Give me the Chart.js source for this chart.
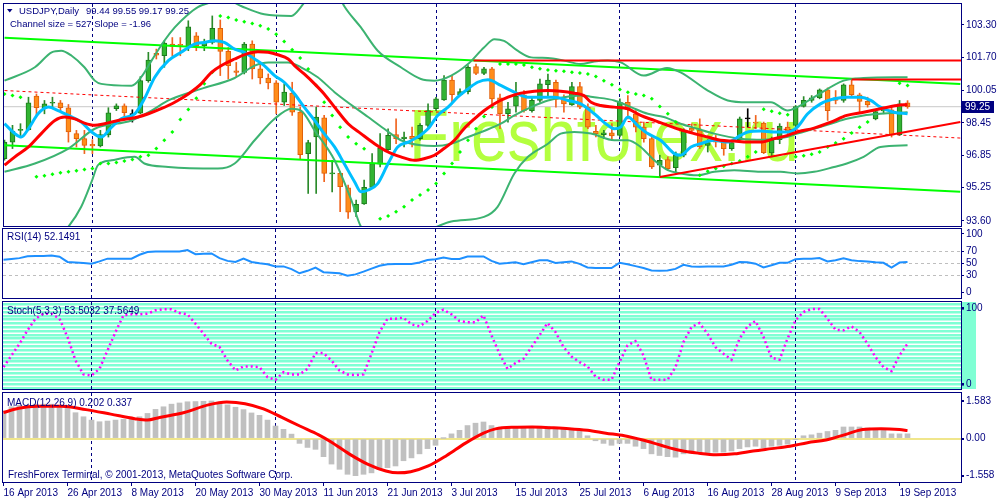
<!DOCTYPE html>
<html>
<head>
<meta charset="utf-8">
<title>USDJPY Daily</title>
<script src="https://cdn.jsdelivr.net/npm/chart.js@4.4.1/dist/chart.umd.min.js"></script>
<style>
  html, body { margin: 0; padding: 0; background: #ffffff; }
  #wrap { position: relative; width: 1000px; height: 500px; }
  #wrap canvas { position: absolute; left: 0; top: 0; }
</style>
</head>
<body>
<div id="wrap">
  <canvas id="priceChart" width="1000" height="500"></canvas>
  <canvas id="rsiChart" width="1000" height="500"></canvas>
  <canvas id="stochChart" width="1000" height="500"></canvas>
  <canvas id="macdChart" width="1000" height="500"></canvas>
</div>
<script>
// ---- axis labels ----
const dateLabels = ['16 Apr 2013', '26 Apr 2013', '8 May 2013', '20 May 2013', '30 May 2013',
  '11 Jun 2013', '21 Jun 2013', '3 Jul 2013', '15 Jul 2013', '25 Jul 2013', '6 Aug 2013',
  '16 Aug 2013', '28 Aug 2013', '9 Sep 2013', '19 Sep 2013'];
const dateBars = [0, 8, 16, 24, 32, 40, 48, 56, 64, 72, 80, 88, 96, 104, 112];
const monthBars = [11, 34, 54, 77, 99];          // period separators (1st bar of each month)
const priceTicks = [103.30, 101.70, 100.05, 98.45, 96.85, 95.25, 93.60];
const rsiTicks = [100, 70, 50, 30, 0];
const rsiLevels = [70, 50, 30];
const stochTicks = [-5, 0, 5, 10, 15, 20, 25, 30, 35, 40, 45, 50, 55, 60, 65, 70, 75, 80, 85, 90, 95, 100, 105];
const macdTicks = [1.583, 0, -1.558];
const macdTickLabels = ['1.583', '0.00', '-1.558'];

// ---- daily candles (bar 0 = 16 Apr 2013) ----
const opens = [96.68, 97.50, 98.08, 98.11, 99.77, 99.20, 99.42, 99.44, 99.20, 97.92,
  97.67, 97.39, 97.31, 97.85, 99.15, 99.29, 98.86, 98.93, 100.54, 101.89,
  101.77, 102.35, 102.32, 102.22, 102.76, 102.26, 102.43, 103.13, 101.99, 101.03,
  100.95, 102.35, 101.12, 100.67, 100.43, 99.47, 99.93, 98.98, 96.93, 97.75,
  98.70, 95.93, 95.95, 95.24, 94.06, 94.44, 95.26, 96.41, 97.13, 97.87,
  97.67, 97.78, 97.67, 98.33, 99.15, 99.59, 100.57, 99.84, 100.00, 101.23,
  100.90, 101.12, 99.69, 98.90, 99.28, 99.84, 99.06, 99.56, 100.34, 100.46,
  99.64, 99.34, 100.25, 99.23, 98.03, 97.87, 97.96, 97.83, 99.47, 98.90,
  98.24, 97.67, 96.36, 96.63, 96.24, 96.85, 98.19, 98.08, 97.34, 97.62,
  97.50, 97.18, 97.62, 98.65, 98.49, 98.44, 96.96, 97.62, 98.24, 98.33,
  99.26, 99.56, 99.69, 100.08, 99.69, 99.56, 100.33, 99.84, 99.51, 98.65,
  99.04, 99.09, 97.87, 99.44];
const highs = [97.60, 98.33, 98.41, 99.72, 99.88, 99.56, 99.72, 99.56, 99.36, 98.08,
  98.08, 97.62, 98.08, 99.20, 99.39, 99.39, 99.10, 100.74, 101.94, 102.10,
  102.51, 102.67, 102.67, 103.50, 102.92, 102.59, 103.74, 103.54, 102.18, 101.44,
  102.43, 102.51, 101.36, 100.87, 100.54, 100.38, 100.46, 99.23, 97.59, 99.23,
  98.82, 96.60, 96.03, 95.37, 94.63, 95.62, 96.93, 97.92, 98.16, 98.65,
  98.00, 98.24, 98.41, 99.39, 99.72, 100.79, 100.79, 100.13, 101.28, 101.36,
  101.20, 101.20, 99.88, 99.47, 100.46, 100.05, 99.72, 100.62, 100.87, 100.57,
  99.84, 100.46, 100.46, 99.39, 98.33, 98.08, 98.41, 99.64, 99.80, 99.06,
  98.49, 97.75, 96.85, 96.77, 97.01, 98.16, 98.41, 98.65, 97.62, 97.83,
  97.59, 97.59, 98.74, 99.15, 98.82, 98.49, 97.75, 98.41, 98.49, 99.31,
  99.75, 99.80, 100.13, 100.18, 100.05, 100.38, 100.59, 99.92, 99.72, 99.06,
  99.23, 99.23, 99.56, 99.55];
const lows = [96.60, 97.18, 97.75, 98.08, 98.82, 98.90, 99.15, 99.06, 97.50, 97.26,
  96.93, 96.93, 97.26, 97.75, 99.06, 98.74, 98.49, 98.90, 100.46, 101.61,
  101.20, 101.77, 101.77, 102.02, 102.02, 102.02, 102.35, 100.79, 100.62, 100.71,
  100.87, 100.62, 100.38, 100.13, 98.90, 99.31, 98.82, 96.68, 94.96, 94.96,
  95.54, 95.04, 94.06, 93.73, 93.81, 94.42, 95.21, 96.27, 97.09, 97.42,
  97.26, 97.26, 97.59, 98.24, 99.06, 99.56, 99.39, 99.80, 99.88, 100.84,
  100.84, 99.23, 98.16, 98.49, 98.98, 98.98, 98.98, 99.47, 99.72, 99.23,
  98.98, 99.31, 99.15, 98.16, 97.75, 97.67, 97.59, 97.75, 98.65, 98.00,
  97.50, 96.19, 95.78, 96.11, 95.95, 96.77, 97.92, 97.18, 97.01, 97.26,
  96.85, 97.09, 97.59, 98.24, 98.16, 96.93, 96.77, 97.42, 97.92, 98.24,
  99.23, 99.47, 99.64, 98.57, 99.39, 99.47, 99.72, 98.98, 99.23, 98.60,
  98.90, 97.75, 97.83, 99.17];
const closes = [97.50, 98.05, 98.12, 99.44, 99.20, 99.39, 99.45, 99.20, 98.00, 97.67,
  97.34, 97.31, 97.87, 98.95, 99.29, 98.95, 98.86, 100.54, 101.56, 101.80,
  102.40, 102.23, 102.28, 103.20, 102.26, 102.46, 103.13, 101.99, 101.28, 100.95,
  102.35, 101.12, 100.67, 100.43, 99.47, 99.97, 98.98, 96.88, 97.47, 98.74,
  95.95, 95.97, 95.29, 94.03, 94.42, 95.26, 96.44, 97.21, 97.83, 97.67,
  97.75, 97.67, 98.33, 99.06, 99.64, 100.57, 99.85, 100.00, 101.20, 100.90,
  101.12, 99.64, 98.90, 99.15, 99.77, 99.06, 99.56, 100.38, 100.57, 99.61,
  99.39, 100.25, 99.23, 98.24, 97.92, 97.96, 97.80, 99.47, 99.11, 98.24,
  97.67, 96.27, 96.60, 96.19, 96.85, 98.08, 98.08, 97.26, 97.47, 97.50,
  97.18, 97.47, 98.65, 98.65, 98.44, 96.98, 97.59, 98.29, 98.05, 99.26,
  99.56, 99.69, 100.08, 99.06, 99.56, 100.33, 99.84, 99.51, 99.34, 99.01,
  99.09, 97.87, 99.39, 99.25];

// ---- overlays: [bar, price] ----
const bbUpper = [[0, 100.54], [3.8, 101.20], [5.9, 101.94], [7.1, 102.02], [8.4, 101.77], [10, 101.20],
  [11.3, 100.54], [12.1, 100.38], [15.9, 100.29], [17.1, 100.71], [18.4, 101.53], [20, 102.51],
  [21.3, 103.17], [22.75, 103.74], [24.2, 104.18], [25.7, 104.40], [27.5, 104.6], [29.6, 104.23],
  [32.5, 103.82], [35.9, 103.74], [36.3, 103.82], [37.5, 104.40], [39, 105.3], [41, 105.4],
  [42.5, 104.23], [44.6, 103.17], [46.7, 102.02], [49.6, 101.20], [52.1, 100.62], [53.8, 100.54],
  [55.9, 100.79], [58, 101.36], [60, 102.18], [61.3, 102.59], [62.5, 102.51], [64.2, 102.02],
  [65.9, 101.69], [68, 101.66], [70, 101.53], [72.1, 101.36], [73.8, 101.49], [75.5, 101.53],
  [77.1, 101.44], [80, 100.79], [82.9, 101.17], [84.6, 100.95], [88, 100.05], [90.5, 99.56],
  [93, 99.47], [95.9, 99.47], [98, 99.06], [99.2, 99.23], [101.3, 99.72], [105, 100.54],
  [107.5, 100.67], [113, 100.71]];
const bbMiddle = [[0, 96.03], [3.8, 96.44], [8, 97.18], [11.3, 98.16], [15.9, 98.57], [18.4, 99.06],
  [20.5, 99.56], [24.6, 100.13], [28.8, 100.67], [31.3, 101.28], [33, 101.44], [35.5, 101.44],
  [37.1, 101.20], [39.2, 100.71], [41.3, 99.97], [45.5, 98.74], [47.5, 98.16], [49.6, 97.59],
  [52.1, 97.34], [53.8, 97.31], [55.9, 97.42], [58, 97.75], [60, 98.05], [62.1, 98.41],
  [63.8, 98.82], [65.9, 99.23], [68, 99.56], [70, 99.72], [72.1, 99.80], [73.8, 99.72],
  [76.3, 99.56], [78.4, 99.23], [80.5, 98.90], [82.5, 98.74], [84.6, 98.41], [86.7, 98.16],
  [88.8, 97.92], [92.1, 97.67], [95, 97.62], [97.9, 97.75], [99.2, 97.92], [101.3, 98.16],
  [103.4, 98.41], [105.4, 98.65], [107.5, 98.82], [109.6, 98.90], [113, 98.98]];
const bbLower = [[0, 91.5], [4, 91.8], [8, 93.32], [9.6, 94.30], [10.9, 95.54], [11.7, 96.36],
  [13.4, 96.60], [16.3, 96.77], [17.5, 96.44], [20.5, 96.27], [26.7, 96.19], [28.8, 96.44],
  [31.3, 97.59], [33.8, 98.65], [35.9, 99.15], [37.1, 99.06], [38.8, 98.08], [41.3, 96.60],
  [43.4, 94.63], [44.6, 93.32], [47, 92.6], [51, 92.8], [55.9, 93.57], [60, 93.8],
  [61.7, 94.30], [63.8, 95.95], [65.5, 96.77], [68, 97.42], [69.6, 97.92], [71.3, 98.00],
  [73.4, 97.92], [76.3, 97.59], [78, 97.59], [79.6, 97.26], [81.3, 96.60], [83, 96.11],
  [84.6, 95.95], [86.7, 95.86], [88.8, 96.03], [91.3, 96.11], [94.6, 96.03], [97.1, 96.03],
  [99.2, 95.95], [101.3, 96.03], [103.8, 96.27], [105.4, 96.44], [107.5, 96.77], [109.6, 97.26],
  [113, 97.34]];
const fastMA = [[0, 98.41], [1.3, 97.92], [2.1, 97.75], [3, 98.16], [4.2, 98.90], [5.5, 99.23],
  [6.7, 99.06], [8, 98.82], [9.6, 98.49], [10.9, 98.00], [12.1, 97.75], [13.4, 98.24],
  [14.6, 98.65], [16.3, 98.90], [17.5, 99.64], [18.8, 100.71], [20.5, 101.53], [22.1, 101.94],
  [23.8, 102.35], [25, 102.43], [26.3, 102.51], [27.5, 102.43], [28.8, 102.10], [30, 101.94],
  [31.3, 101.61], [32.5, 101.28], [33.8, 100.79], [35, 100.46], [36.3, 99.88], [37.5, 99.23],
  [38.8, 98.57], [40, 97.92], [41.3, 97.26], [42.5, 96.44], [43.8, 95.54], [44.6, 95.04],
  [45.5, 95.13], [46.7, 95.45], [48, 96.44], [49.2, 97.26], [50.5, 97.50], [51.7, 97.75],
  [53, 98.16], [54.2, 98.82], [55.5, 99.23], [56.7, 99.72], [58, 100.13], [59.2, 100.46],
  [60.5, 100.58], [62.1, 100.30], [63.8, 99.97], [65.5, 99.72], [67.1, 99.72], [68.8, 99.72],
  [70.5, 99.56], [72.1, 99.39], [73.8, 98.90], [75.5, 98.33], [76.3, 98.16], [77.1, 98.24],
  [78, 98.74], [79.2, 98.33], [80.5, 97.92], [82.1, 97.59], [83.8, 96.93], [84.6, 96.85],
  [85.9, 97.26], [87.1, 97.42], [88.8, 97.59], [90.5, 97.50], [92.1, 97.83], [93, 98.00],
  [94.6, 98.05], [96.3, 98.00], [98, 98.00], [99.2, 98.24], [100.5, 98.90], [102.1, 99.39],
  [103.8, 99.64], [105.4, 99.72], [107.1, 99.72], [108.4, 99.56], [109.6, 99.23], [111.3, 98.98],
  [113, 98.90]];
const slowMA = [[0, 96.36], [1.3, 96.77], [3, 97.26], [4.6, 97.92], [6.3, 98.57], [7.5, 98.74],
  [8.8, 98.65], [10, 98.44], [11.3, 98.33], [12.5, 98.41], [14.2, 98.57], [15.5, 98.65],
  [16.7, 98.74], [18, 98.90], [19.6, 99.15], [21.3, 99.47], [23, 99.88], [24.6, 100.38],
  [25.9, 100.95], [27.1, 101.28], [28.8, 101.61], [30.5, 101.89], [31.7, 101.97], [33, 101.94],
  [34.2, 101.82], [35.5, 101.61], [36.3, 101.28], [37.5, 100.87], [38.8, 100.38], [40, 99.88],
  [41.3, 99.23], [43, 98.41], [44.6, 97.92], [46.3, 97.42], [48, 97.01], [49.6, 96.77],
  [51.3, 96.60], [52.5, 96.68], [53.8, 96.85], [55, 97.18], [56.3, 97.59], [57.5, 98.16],
  [58.8, 98.65], [60, 99.05], [61.3, 99.40], [63, 99.72], [64.6, 99.92], [66.3, 100.02],
  [68, 100.05], [69.6, 100.02], [71.3, 99.92], [72.5, 99.80], [73.4, 99.47], [74.6, 99.31],
  [76.3, 99.23], [78, 99.15], [79.6, 98.82], [81.3, 98.57], [83, 98.33], [84.6, 98.11],
  [86.3, 97.92], [88, 97.75], [89.6, 97.59], [91.3, 97.55], [93, 97.50], [94.6, 97.50],
  [96.3, 97.67], [98, 97.83], [99.2, 98.00], [101.3, 98.19], [103.4, 98.49], [105.4, 98.82],
  [107.5, 98.98], [109.6, 99.15], [111.7, 99.31], [113, 99.36]];
const sarDots = [[0, 99.88], [1, 99.80], [2, 99.72], [4, 95.78], [5, 95.83], [6, 95.91], [7, 95.98],
  [8, 96.03], [9, 96.08], [10, 96.14], [11, 96.19], [12, 96.44], [13, 96.44], [14, 96.49], [15, 96.57],
  [16, 96.64], [17, 96.77], [18, 96.85], [19, 97.18], [20, 97.59], [21, 98.00], [22, 98.62],
  [23, 99.11], [24, 99.67], [25, 100.38], [26, 100.95], [27, 103.74], [28, 103.66], [29, 103.54],
  [30, 103.45], [31, 103.36], [32, 103.25], [33, 103.09], [34, 102.84], [35, 102.48], [36, 102.07],
  [37, 101.66], [38, 101.12], [39, 100.30], [40, 99.47], [41, 98.82], [42, 98.24], [43, 97.75],
  [44, 97.42], [45, 97.17], [47, 93.71], [48, 93.84], [49, 94.06], [50, 94.30], [51, 94.63],
  [52, 94.88], [53, 95.13], [54, 95.45], [55, 95.95], [56, 96.44], [57, 97.01], [58, 97.59],
  [59, 98.16], [60, 98.77], [61, 99.23], [62, 101.36], [63, 101.36], [64, 101.36], [65, 101.31],
  [66, 101.20], [67, 101.13], [68, 101.07], [69, 101.03], [70, 101.00], [71, 100.95], [72, 100.92],
  [73, 100.87], [74, 100.74], [75, 100.54], [76, 100.33], [77, 100.10], [78, 99.97], [79, 99.88],
  [80, 99.80], [81, 99.64], [82, 99.26], [83, 98.90], [84, 98.49], [87, 95.86], [88, 96.06],
  [89, 96.19], [90, 96.31], [91, 96.44], [92, 96.57], [93, 96.77], [94, 97.01], [95, 99.13],
  [96, 99.03], [97, 98.93], [98, 98.85], [99, 96.77], [100, 96.82], [101, 96.90], [102, 97.01],
  [103, 97.26], [104, 97.46], [105, 97.67], [106, 97.95], [107, 98.24], [108, 98.49],
  [112, 100.41], [113, 100.30]];

// regression channel, trend line and resistance levels
const chanBars = [0, 119.6];
const chanUpper = [102.66, 100.37];
const chanMiddle = [100.05, 97.70];
const chanLower = [97.34, 95.04];
const trendBars = [82, 119.6];
const trendPrices = [95.77, 98.49];
const resLevels = [101.53, 100.59];
const resStart = [58.7, 106];

// ---- sub-window indicators ----
const rsi = [56.1, 57.5, 58.9, 62.2, 62.7, 62.7, 63.2, 61.3, 52.4, 51.4,
  50.5, 49.5, 53.3, 58.0, 58.0, 58.0, 58.0, 64.6, 69.3, 70.2,
  70.2, 70.2, 70.2, 72.6, 65.5, 66.5, 66.9, 58.9, 54.2, 52.4,
  58.0, 52.4, 50.0, 48.6, 44.8, 44.8, 40.1, 33.1, 37.3, 42.9,
  34.9, 34.0, 33.1, 28.8, 31.2, 35.9, 41.1, 45.8, 48.6, 49.1,
  49.1, 49.1, 51.4, 55.6, 57.1, 59.9, 57.5, 57.5, 61.8, 61.8,
  61.8, 54.2, 49.5, 50.5, 51.9, 48.6, 51.9, 55.2, 55.2, 50.5,
  51.9, 53.3, 49.1, 42.9, 42.0, 42.0, 42.0, 50.9, 48.6, 45.3,
  42.0, 37.8, 37.3, 37.8, 40.6, 47.6, 44.8, 44.4, 44.8, 44.8,
  44.8, 47.6, 52.4, 51.9, 49.5, 42.9, 46.7, 50.9, 50.9, 57.1,
  58.0, 58.0, 58.9, 53.3, 55.2, 58.5, 55.2, 53.8, 53.3, 51.9,
  50.9, 42.9, 51.4, 52.1];
const stoch = [22.8, 38.2, 53.5, 71.1, 86.4, 93.0, 93.0, 86.4, 62.3, 31.6,
  13.2, 11.8, 20.6, 44.7, 68.9, 90.8, 92.1, 92.1, 93.0, 97.4,
  98.7, 98.7, 93.9, 92.1, 79.8, 66.7, 53.5, 49.1, 31.6, 18.4,
  23.7, 23.7, 22.8, 9.6, 6.1, 16.2, 13.2, 13.2, 20.6, 41.2,
  41.2, 31.6, 18.4, 13.2, 12.3, 13.2, 40.4, 68.9, 86.4, 86.4,
  87.7, 78.9, 76.3, 83.3, 93.9, 98.2, 92.1, 83.3, 81.6, 81.6,
  90.8, 64.5, 40.4, 20.6, 28.1, 33.8, 49.1, 64.5, 80.7, 68.9,
  49.1, 36.8, 29.4, 23.7, 10.5, 6.1, 6.1, 29.4, 51.3, 57.0,
  38.2, 6.1, 6.1, 6.1, 22.8, 55.7, 75.4, 80.7, 66.7, 49.1,
  40.4, 32.5, 60.1, 76.3, 83.3, 62.3, 35.1, 32.5, 60.1, 84.2,
  95.2, 99.1, 99.1, 86.4, 71.9, 71.1, 76.3, 68.9, 53.5, 36.0,
  22.8, 17.5, 38.2, 53.5];
const macdHist = [1.17, 1.34, 1.41, 1.41, 1.45, 1.45, 1.45, 1.41, 1.27, 1.09,
  0.92, 0.78, 0.71, 0.74, 0.78, 0.81, 0.81, 0.92, 1.06, 1.23,
  1.34, 1.45, 1.50, 1.55, 1.56, 1.57, 1.583, 1.52, 1.42, 1.32,
  1.22, 1.08, 0.98, 0.78, 0.53, 0.39, 0.19, -0.20, -0.37, -0.45,
  -0.76, -1.07, -1.29, -1.50, -1.558, -1.50, -1.44, -1.29, -1.22, -1.15,
  -0.93, -0.81, -0.64, -0.42, -0.28, 0.01, 0.20, 0.35, 0.55, 0.65,
  0.70, 0.55, 0.45, 0.48, 0.48, 0.45, 0.49, 0.52, 0.52, 0.45,
  0.45, 0.41, 0.35, 0.12, -0.09, -0.20, -0.28, -0.20, -0.20, -0.32,
  -0.42, -0.64, -0.71, -0.76, -0.78, -0.64, -0.61, -0.61, -0.61, -0.57,
  -0.57, -0.52, -0.42, -0.35, -0.32, -0.38, -0.32, -0.28, -0.23, -0.03,
  0.12, 0.16, 0.23, 0.30, 0.35, 0.49, 0.49, 0.49, 0.45, 0.38,
  0.35, 0.20, 0.20, 0.202];
const macdSignal = [[0, 1.10], [1.9, 1.28], [4.2, 1.36], [7.3, 1.36], [10.3, 1.22], [13.4, 1.03],
  [16.4, 0.84], [18, 0.78], [19.5, 0.89], [22.6, 1.10], [25.6, 1.42], [27.9, 1.54], [30.2, 1.47],
  [32.5, 1.25], [34.8, 0.89], [37.1, 0.52], [39.4, 0.16], [40.9, -0.13], [43.2, -0.64],
  [45.5, -1.07], [47.8, -1.36], [49.3, -1.44], [50.9, -1.39], [53.1, -1.15], [55.4, -0.71],
  [57.7, -0.20], [60, 0.23], [61.5, 0.41], [63.8, 0.48], [66.1, 0.49], [68.4, 0.46], [70.7, 0.42],
  [73, 0.35], [75.3, 0.23], [77.6, 0.12], [79.9, -0.06], [82.2, -0.28], [84.5, -0.49],
  [86.8, -0.61], [89.1, -0.68], [91.4, -0.64], [93.7, -0.52], [96, -0.42], [98.3, -0.32],
  [100.5, -0.17], [102.8, -0.06], [105.1, 0.16], [107.4, 0.38], [109.7, 0.42], [112, 0.38],
  [113, 0.337]];

// header texts
const titleText = 'USDJPY,Daily';
const channelText = 'Channel size = 527 Slope = -1.96';
const rsiText = 'RSI(14) 52.1491';
const stochText = 'Stoch(5,3,3) 53.5032 37.5649';
const macdText = 'MACD(12,26,9) 0.202 0.337';
const footerText = 'FreshForex Terminal, \u00A9 2001-2013, MetaQuotes Software Corp.';
const watermark = 'Freshforex.ru';

// ---- styling ----
const NAVY = '#000080';
const FONT = '"Liberation Sans", Arial, sans-serif';
const X_MIN = -0.0625, X_MAX = 119.6875;   // 8 px per bar
Chart.defaults.font.family = FONT;
Chart.defaults.font.size = 10;
Chart.defaults.color = NAVY;
Chart.defaults.elements.point.radius = 0;

const pts = a => a.map(p => ({ x: p[0], y: p[1] }));
const perBar = a => a.map((v, i) => ({ x: i, y: v }));
const last = closes.length - 1;
const dir = closes.map((c, i) => c > opens[i] ? 1 : c < opens[i] ? -1 : 0);
const pick = (d, up, down, flat) => d > 0 ? up : d < 0 ? down : flat;

function xAxis(show) {
  return {
    type: 'linear', min: X_MIN, max: X_MAX, offset: false, display: show,
    afterBuildTicks: s => { s.ticks = dateBars.map(v => ({ value: v })); },
    afterFit: s => {
      if (show) s.height = 18;
      s.paddingLeft = 0; s.paddingRight = 0;
    },
    grid: { offset: false, drawOnChartArea: false, tickLength: 4, tickColor: NAVY },
    border: { display: false },
    ticks: {
      autoSkip: false, maxRotation: 0, minRotation: 0, align: 'start', padding: 1, color: NAVY,
      callback: v => dateLabels[dateBars.indexOf(v)] || ''
    }
  };
}

function yAxis(min, max, vals, fmt, grid, border) {
  return {
    type: 'linear', position: 'right', min, max,
    afterBuildTicks: s => { s.ticks = vals.map(v => ({ value: v })); },
    afterFit: s => { s.width = 39; s.paddingTop = 0; s.paddingBottom = 0; },
    grid: Object.assign({ drawOnChartArea: false, tickLength: 3, tickColor: NAVY }, grid || {}),
    border: Object.assign({ display: false }, border || {}),
    ticks: { autoSkip: false, padding: 2, color: NAVY, callback: fmt }
  };
}

function baseOptions(top, bottom, scales) {
  return {
    responsive: false, animation: false, devicePixelRatio: 1, events: [],
    layout: { padding: { left: 3, right: 0, top: top, bottom: bottom } },
    plugins: { legend: { display: false }, tooltip: { enabled: false } },
    scales: scales
  };
}

// frame around each sub-window + dashed month separators
const framePlugin = {
  id: 'frame',
  beforeDatasetsDraw(chart) {
    const { ctx, chartArea: a, scales: { x } } = chart;
    ctx.save();
    ctx.strokeStyle = NAVY;
    ctx.lineWidth = 1;
    ctx.setLineDash([3, 3]);
    monthBars.forEach(b => {
      const px = Math.floor(x.getPixelForValue(b)) + 0.5;
      ctx.beginPath();
      ctx.moveTo(px, a.top);
      ctx.lineTo(px, a.bottom);
      ctx.stroke();
    });
    ctx.restore();
  },
  afterDraw(chart) {
    const { ctx, chartArea: a } = chart;
    ctx.save();
    ctx.strokeStyle = NAVY;
    ctx.lineWidth = 1;
    ctx.strokeRect(a.left - 0.5, a.top - 0.5, a.right - a.left + 1, a.bottom - a.top + 1);
    ctx.restore();
  }
};

function labelPlugin(items) {
  return {
    id: 'labels',
    afterDraw(chart) {
      const ctx = chart.ctx;
      ctx.save();
      ctx.font = '10px ' + FONT;
      ctx.fillStyle = NAVY;
      ctx.textBaseline = 'middle';
      items.forEach(t => ctx.fillText(t[0], t[1], t[2]));
      ctx.restore();
    }
  };
}

// price window extras: watermark, title, current price tag
const priceExtras = {
  id: 'priceExtras',
  beforeDatasetsDraw(chart) {
    const ctx = chart.ctx;
    ctx.save();
    ctx.font = '74px ' + FONT;
    ctx.fillStyle = 'rgba(173,255,47,0.92)';
    ctx.textBaseline = 'alphabetic';
    ctx.fillText(watermark, 409, 161, 390);
    ctx.restore();
  },
  afterDraw(chart) {
    const { ctx, scales: { y } } = chart;
    ctx.save();
    ctx.fillStyle = NAVY;
    ctx.beginPath();
    ctx.moveTo(7, 9); ctx.lineTo(12.5, 9); ctx.lineTo(9.75, 12.5); ctx.closePath();
    ctx.fill();
    ctx.font = '9.5px ' + FONT;
    ctx.textBaseline = 'middle';
    ctx.fillText(titleText, 19, 11);
    const ohlc = [opens[last], highs[last], lows[last], closes[last]].map(v => v.toFixed(2)).join(' ');
    ctx.fillText(ohlc, 86, 11);
    ctx.fillText(channelText, 10, 24);
    ctx.font = '10px ' + FONT;
    const py = Math.round(y.getPixelForValue(closes[last]));
    ctx.fillRect(962, py - 6, 32, 12);
    ctx.fillStyle = '#ffffff';
    ctx.fillText(closes[last].toFixed(2), 965, py);
    ctx.restore();
  }
};

const stochExtras = {
  id: 'stochExtras',
  beforeDraw(chart) {
    const { ctx, chartArea: a } = chart;
    ctx.save();
    ctx.fillStyle = '#7FFFD4';
    ctx.fillRect(962, a.top, 14, a.bottom - a.top);
    ctx.restore();
  }
};

// ---- price window ----
const mono = { cubicInterpolationMode: 'monotone', pointRadius: 0, fill: false };
const priceDatasets = [
  { type: 'line', data: [{ x: X_MIN, y: closes[last] }, { x: X_MAX, y: closes[last] }],
    borderColor: '#C8C8C8', borderWidth: 1, order: 20 },
  { type: 'bar', data: closes.map((c, i) => ({ x: i, y: [lows[i], highs[i]] })),
    backgroundColor: dir.map(d => pick(d, '#2A8A2A', '#F0641E', '#000000')),
    barThickness: 1, grouped: false, order: 12 },
  { type: 'bar', data: closes.map((c, i) => ({ x: i, y: [opens[i], c] })),
    backgroundColor: dir.map(d => pick(d, '#32B432', '#FF8C1A', '#000000')),
    borderColor: dir.map(d => pick(d, '#1C7A1C', '#E0600A', '#000000')),
    borderWidth: 1, borderSkipped: false, barThickness: 5, grouped: false, minBarLength: 1, order: 11 },
  { type: 'line', data: chanBars.map((b, i) => ({ x: b, y: chanUpper[i] })), borderColor: '#00FF00', borderWidth: 2, order: 9 },
  { type: 'line', data: chanBars.map((b, i) => ({ x: b, y: chanLower[i] })), borderColor: '#00FF00', borderWidth: 2, order: 9 },
  { type: 'line', data: chanBars.map((b, i) => ({ x: b, y: chanMiddle[i] })), borderColor: '#FF0000', borderWidth: 1, borderDash: [3, 3], order: 9 },
  Object.assign({ type: 'line', data: pts(bbUpper), borderColor: '#3CB371', borderWidth: 2, order: 8 }, mono),
  Object.assign({ type: 'line', data: pts(bbMiddle), borderColor: '#3CB371', borderWidth: 2, order: 8 }, mono),
  Object.assign({ type: 'line', data: pts(bbLower), borderColor: '#3CB371', borderWidth: 2, order: 8 }, mono),
  { type: 'line', data: pts(sarDots), showLine: false, pointStyle: 'rectRot', pointRadius: 2,
    pointBackgroundColor: '#00FF00', pointBorderWidth: 0, order: 7 },
  Object.assign({ type: 'line', data: pts(fastMA), borderColor: '#00BFFF', borderWidth: 3, order: 5 }, mono),
  Object.assign({ type: 'line', data: pts(slowMA), borderColor: '#FF0000', borderWidth: 3, order: 4 }, mono),
  { type: 'line', data: trendBars.map((b, i) => ({ x: b, y: trendPrices[i] })), borderColor: '#FF0000', borderWidth: 2, order: 3 }
].concat(resLevels.map((lv, i) => ({
  type: 'line', data: [{ x: resStart[i], y: lv }, { x: X_MAX, y: lv }], borderColor: '#FF0000', borderWidth: 2, order: 3
})));

new Chart(document.getElementById('priceChart'), {
  type: 'line',
  data: { datasets: priceDatasets },
  options: baseOptions(3, 274, {
    x: xAxis(false),
    y: yAxis(93.35, 104.33, priceTicks, v => v.toFixed(2))
  }),
  plugins: [framePlugin, priceExtras]
});

// ---- RSI window ----
new Chart(document.getElementById('rsiChart'), {
  type: 'line',
  data: { datasets: [{ data: perBar(rsi), borderColor: '#1E90FF', borderWidth: 2, pointRadius: 0 }] },
  options: baseOptions(229, 202, {
    x: xAxis(false),
    y: yAxis(-9.0, 108.5, rsiTicks, v => String(v), {
      drawOnChartArea: true,
      color: c => rsiLevels.includes(c.tick && c.tick.value) ? '#BEBEBE' : 'rgba(0,0,0,0)'
    }, { dash: [3, 3] })
  }),
  plugins: [framePlugin, labelPlugin([[rsiText, 7, 237]])]
});

// ---- Stochastic window ----
new Chart(document.getElementById('stochChart'), {
  type: 'line',
  data: { datasets: [{ data: perBar(stoch), borderColor: '#FF00FF', borderWidth: 2.5, borderDash: [2, 3], pointRadius: 0 }] },
  options: baseOptions(302, 111, {
    x: xAxis(false),
    y: yAxis(-5.9, 108.27, stochTicks, v => (v === 100 || v === 0) ? String(v) : '', {
      drawOnChartArea: true, color: '#7FFFD4', lineWidth: 2.6,
      tickColor: c => (c.tick && (c.tick.value === 100 || c.tick.value === 0)) ? NAVY : 'rgba(0,0,0,0)'
    })
  }),
  plugins: [stochExtras, framePlugin, labelPlugin([[stochText, 7, 311]])]
});

// ---- MACD window ----
new Chart(document.getElementById('macdChart'), {
  type: 'line',
  data: {
    datasets: [
      { type: 'bar', data: perBar(macdHist), backgroundColor: '#C0C0C0', barThickness: 5, grouped: false, order: 2 },
      { type: 'line', data: pts(macdSignal), borderColor: '#FF0000', borderWidth: 3,
        cubicInterpolationMode: 'monotone', pointRadius: 0, order: 1 }
    ]
  },
  options: baseOptions(393, 0, {
    x: xAxis(true),
    y: yAxis(-1.824, 1.919, macdTicks, v => macdTickLabels[macdTicks.indexOf(v)] || '', {
      drawOnChartArea: true, lineWidth: 2,
      color: c => (c.tick && c.tick.value === 0) ? '#F0E68C' : 'rgba(0,0,0,0)'
    })
  }),
  plugins: [framePlugin, labelPlugin([[macdText, 7, 403], [footerText, 8, 475]])]
});
</script>
</body>
</html>
